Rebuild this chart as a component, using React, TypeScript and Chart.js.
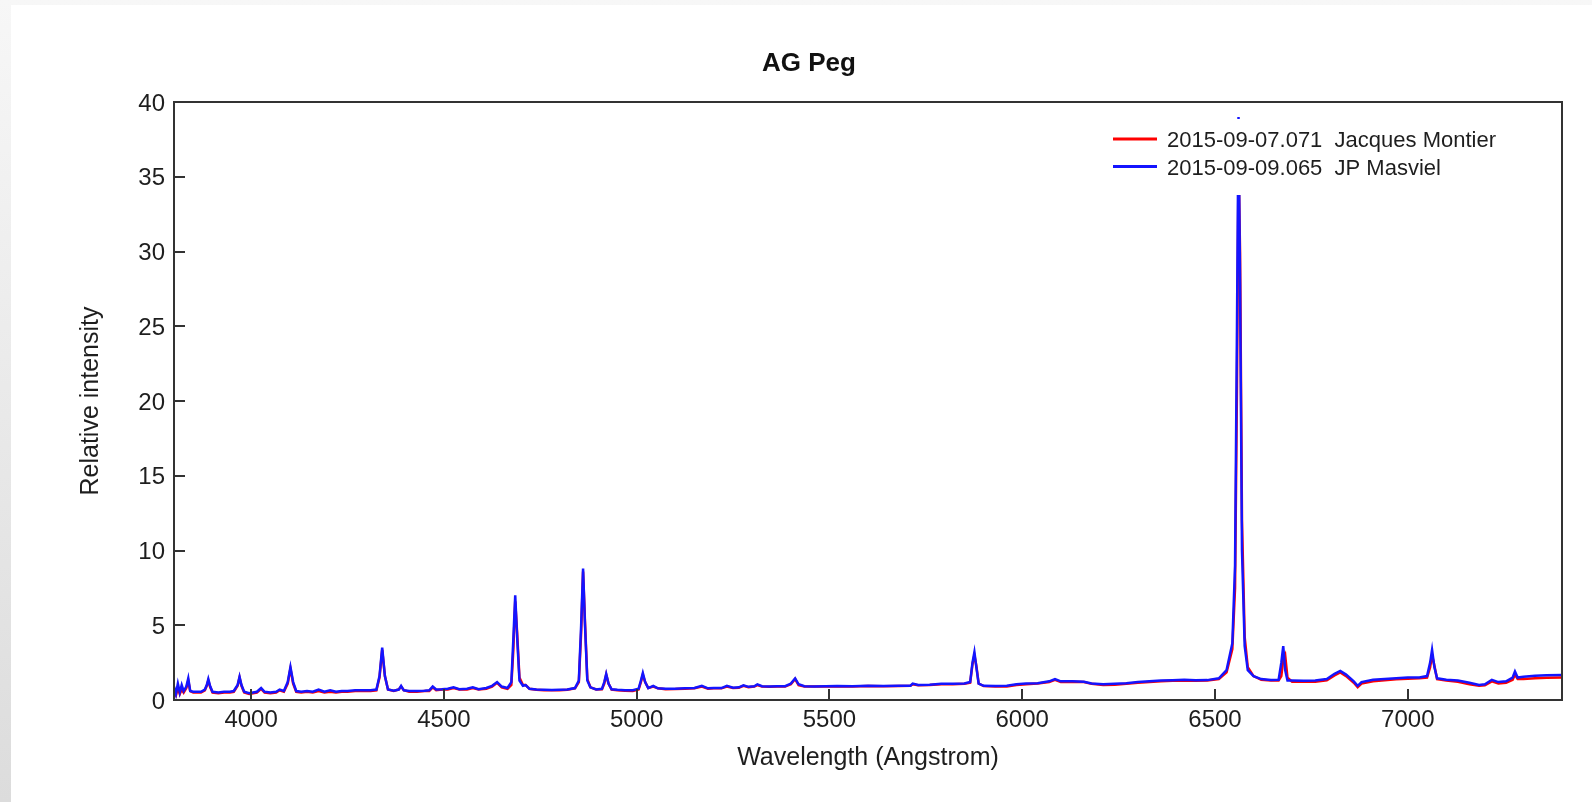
import React, { useEffect, useRef } from "react";
import { Chart, registerables } from "chart.js";

Chart.register(...registerables);

const chartTitle = "AG Peg";
const xAxisTitle = "Wavelength (Angstrom)";
const yAxisTitle = "Relative intensity";
const seriesLabels = ["2015-09-07.071  Jacques Montier", "2015-09-09.065  JP Masviel"];
const seriesColors = ["#ff0000", "#1414ff"];

const xTickValues = [4000, 4500, 5000, 5500, 6000, 6500, 7000];
const yTickValues = [0, 5, 10, 15, 20, 25, 30, 35, 40];

const wavelengths = [
  3800, 3805, 3810, 3815, 3820, 3825, 3832, 3837, 3842, 3850, 3860, 3870, 3880, 3885, 3889, 3894,
  3900, 3915, 3930, 3945, 3955, 3965, 3970, 3975, 3982, 3995, 4005, 4015, 4026, 4035, 4050, 4065,
  4074, 4085, 4095, 4102, 4109, 4117, 4130, 4145, 4160, 4175, 4190, 4205, 4220, 4235, 4250, 4270,
  4290, 4310, 4325, 4333, 4340, 4347, 4355, 4370, 4383, 4389, 4396, 4410, 4430, 4450, 4462, 4471,
  4480, 4495, 4510, 4525, 4540, 4560, 4575, 4590, 4610, 4625, 4638, 4650, 4665, 4675, 4680, 4685,
  4690, 4696, 4705, 4712, 4722, 4740, 4760, 4780, 4800, 4820, 4840, 4850, 4856, 4861, 4866, 4872,
  4880, 4895, 4910, 4916, 4921, 4927, 4935, 4950, 4970, 4990, 5005, 5011, 5016, 5022, 5030, 5043,
  5055, 5075, 5100, 5125, 5150, 5169, 5185, 5200, 5220, 5234, 5250, 5265, 5277, 5290, 5305, 5313,
  5325, 5345, 5365, 5385, 5400, 5411, 5420, 5435, 5460, 5490, 5520, 5560, 5600, 5640, 5680, 5710,
  5716, 5730, 5760, 5790, 5820, 5850, 5865, 5871, 5876, 5881, 5887, 5900, 5930, 5960, 5985, 6010,
  6040, 6070, 6085, 6100, 6130, 6160, 6180, 6210, 6240, 6270, 6300, 6330, 6360, 6390, 6420, 6450,
  6480, 6510, 6530, 6545, 6552, 6557, 6561, 6565, 6570, 6577, 6585, 6600, 6620, 6645, 6665, 6672,
  6677, 6682, 6688, 6700, 6730, 6760, 6790, 6810, 6825, 6840, 6860, 6870, 6880, 6910, 6940, 6970,
  7000, 7030, 7050, 7058, 7063, 7069, 7076, 7100, 7130, 7160, 7185, 7200, 7218, 7235, 7255, 7272,
  7278, 7285, 7300, 7330, 7360, 7400,
];

// 2015-09-07.071 Jacques Montier (red)
const montierFlux = [
  0.5, 0.3, 0.8, 0.4, 0.7, 0.5, 0.8, 1.3, 0.6, 0.5, 0.5, 0.5, 0.65, 0.95, 1.3, 0.85,
  0.5, 0.45, 0.5, 0.5, 0.55, 0.95, 1.5, 0.95, 0.5, 0.4, 0.45, 0.5, 0.75, 0.5, 0.45, 0.5,
  0.65, 0.55, 1.1, 2.1, 1.1, 0.55, 0.5, 0.55, 0.5, 0.6, 0.5, 0.55, 0.5, 0.55, 0.55, 0.6,
  0.6, 0.6, 0.65, 1.5, 3.35, 1.6, 0.7, 0.6, 0.7, 0.9, 0.65, 0.55, 0.55, 0.6, 0.6, 0.85,
  0.65, 0.7, 0.7, 0.8, 0.7, 0.7, 0.8, 0.7, 0.75, 0.9, 1.15, 0.85, 0.75, 1.0, 3.3, 6.6,
  4.5, 1.5, 1.0, 1.0, 0.75, 0.68, 0.65, 0.65, 0.66, 0.68, 0.78, 1.2, 4.5, 8.6, 5.2, 1.4,
  0.85, 0.7, 0.72, 1.1, 1.7, 1.1, 0.7, 0.65, 0.62, 0.6, 0.7, 1.2, 1.7, 1.2, 0.8, 0.9,
  0.78, 0.72, 0.73, 0.76, 0.78, 0.9, 0.76, 0.78, 0.78, 0.9, 0.8, 0.82, 0.95, 0.86, 0.9, 1.0,
  0.9, 0.88, 0.9, 0.9, 1.05, 1.4, 1.0, 0.9, 0.9, 0.9, 0.92, 0.9, 0.93, 0.92, 0.93, 0.95,
  1.05, 0.98, 1.0, 1.05, 1.06, 1.08, 1.15, 2.4, 3.0, 2.3, 1.1, 0.93, 0.9, 0.9, 1.0, 1.05,
  1.1, 1.2, 1.35, 1.2, 1.22, 1.2, 1.08, 1.0, 1.02, 1.08, 1.15, 1.2, 1.25, 1.28, 1.3, 1.28,
  1.3, 1.4, 1.85, 3.4, 7.5, 21.0, 36.0, 30.0, 12.0, 4.2, 2.2, 1.6, 1.35, 1.3, 1.3, 1.6,
  2.7, 3.0, 1.5, 1.22, 1.22, 1.22, 1.32, 1.65, 1.85, 1.6, 1.15, 0.85, 1.1, 1.25, 1.32, 1.38,
  1.42, 1.45, 1.5, 2.2, 3.0, 2.3, 1.4, 1.3, 1.22, 1.05, 0.95, 0.98, 1.25, 1.1, 1.15, 1.35,
  1.7, 1.4, 1.4, 1.45, 1.48, 1.5,
];

// 2015-09-09.065 JP Masviel (blue)
const masvielFlux = [
  0.9, 0.4, 1.1, 0.5, 1.0, 0.6, 0.9, 1.45, 0.6, 0.55, 0.55, 0.55, 0.7, 1.0, 1.4, 0.9,
  0.55, 0.5, 0.55, 0.55, 0.6, 1.0, 1.55, 1.0, 0.55, 0.45, 0.5, 0.55, 0.8, 0.55, 0.5, 0.55,
  0.7, 0.6, 1.2, 2.2, 1.2, 0.6, 0.55, 0.6, 0.55, 0.7, 0.55, 0.65, 0.55, 0.6, 0.6, 0.65,
  0.65, 0.65, 0.7, 1.6, 3.5, 1.6, 0.7, 0.62, 0.7, 0.95, 0.65, 0.6, 0.6, 0.62, 0.65, 0.9,
  0.7, 0.72, 0.75, 0.85, 0.72, 0.75, 0.85, 0.72, 0.8, 0.95, 1.2, 0.9, 0.8, 1.2, 4.0, 7.0,
  4.2, 1.3, 0.95, 1.0, 0.75, 0.7, 0.68, 0.67, 0.68, 0.7, 0.8, 1.3, 5.0, 8.8, 5.0, 1.3,
  0.85, 0.7, 0.75, 1.2, 1.75, 1.1, 0.72, 0.68, 0.65, 0.65, 0.75, 1.3, 1.8, 1.2, 0.8, 0.95,
  0.78, 0.75, 0.75, 0.78, 0.8, 0.95, 0.78, 0.8, 0.8, 0.95, 0.82, 0.85, 0.98, 0.88, 0.92, 1.05,
  0.92, 0.9, 0.92, 0.92, 1.1, 1.45, 1.05, 0.92, 0.9, 0.92, 0.93, 0.92, 0.95, 0.93, 0.95, 0.96,
  1.1, 1.0, 1.02, 1.08, 1.08, 1.1, 1.2, 2.5, 3.2, 2.2, 1.1, 0.95, 0.94, 0.95, 1.05, 1.1,
  1.12, 1.25, 1.4, 1.25, 1.25, 1.22, 1.1, 1.05, 1.08, 1.12, 1.2, 1.25, 1.3, 1.32, 1.35, 1.32,
  1.33, 1.45, 2.0, 3.8, 9.0, 25.0, 39.0, 28.0, 10.0, 3.6, 2.0, 1.6, 1.4, 1.33, 1.35, 2.5,
  3.6, 2.0, 1.3, 1.3, 1.28, 1.3, 1.4, 1.75, 1.95, 1.7, 1.25, 0.95, 1.2, 1.35, 1.4, 1.45,
  1.5, 1.5, 1.6, 2.5, 3.35, 2.2, 1.45, 1.35, 1.3, 1.15, 1.0, 1.05, 1.35, 1.2, 1.25, 1.5,
  1.9, 1.5, 1.55, 1.62, 1.65, 1.68,
];

const FONT = "'Liberation Sans', Arial, sans-serif";
const TEXT_COLOR = "#1e1e1e";

const framePlugin = {
  id: "frameAndLegend",
  afterDatasetsDraw(chart: any) {
    const { ctx, chartArea } = chart;
    const { left, right, top, bottom } = chartArea;
    const xs = chart.scales.x;
    const ys = chart.scales.y;
    ctx.save();
    // legend box (white, covering lines beneath)
    ctx.fillStyle = "#ffffff";
    ctx.fillRect(1090, 114, 410, 76);
    const rowY = [134, 161.5];
    for (let i = 0; i < seriesLabels.length; i++) {
      ctx.strokeStyle = seriesColors[i];
      ctx.lineWidth = 3;
      ctx.beginPath();
      ctx.moveTo(1102, rowY[i]);
      ctx.lineTo(1146, rowY[i]);
      ctx.stroke();
      ctx.fillStyle = TEXT_COLOR;
      ctx.font = `22px ${FONT}`;
      ctx.textBaseline = "middle";
      ctx.textAlign = "left";
      ctx.fillText(seriesLabels[i], 1156, rowY[i] + 2);
    }
    // inward tick marks
    ctx.strokeStyle = "#333333";
    ctx.lineWidth = 2;
    ctx.beginPath();
    for (const t of xs.ticks) {
      const px = Math.round(xs.getPixelForValue(t.value));
      if (px <= left + 1 || px >= right - 1) continue;
      ctx.moveTo(px, bottom);
      ctx.lineTo(px, bottom - 11);
    }
    for (const t of ys.ticks) {
      const py = Math.round(ys.getPixelForValue(t.value));
      if (py <= top + 1 || py >= bottom - 1) continue;
      ctx.moveTo(left, py);
      ctx.lineTo(left + 11, py);
    }
    ctx.stroke();
    // frame
    ctx.strokeRect(left, top, right - left, bottom - top);
    ctx.restore();
  },
};

export default function App() {
  const canvasRef = useRef<HTMLCanvasElement | null>(null);

  useEffect(() => {
    const canvas = canvasRef.current;
    if (!canvas) return;
    const chart = new Chart(canvas, {
      type: "line",
      data: {
        datasets: [
          {
            label: seriesLabels[0],
            data: wavelengths.map((w, i) => ({ x: w, y: montierFlux[i] })),
            borderColor: seriesColors[0],
            backgroundColor: seriesColors[0],
            borderWidth: 2.5,
            pointRadius: 0,
            tension: 0,
            order: 2,
          },
          {
            label: seriesLabels[1],
            data: wavelengths.map((w, i) => ({ x: w, y: masvielFlux[i] })),
            borderColor: seriesColors[1],
            backgroundColor: seriesColors[1],
            borderWidth: 2.5,
            pointRadius: 0,
            tension: 0,
            order: 1,
          },
        ],
      },
      options: {
        responsive: false,
        animation: false,
        events: [],
        layout: { padding: { left: 45, right: 45, top: 0, bottom: 0 } },
        plugins: {
          legend: { display: false },
          tooltip: { enabled: false },
          title: {
            display: true,
            text: chartTitle,
            color: "#111111",
            font: { family: FONT, size: 26, weight: "bold", lineHeight: 1.2 },
            padding: { top: 43.4, bottom: 22.4 },
          },
        },
        scales: {
          x: {
            type: "linear",
            min: 3800,
            max: 7400,
            grid: { display: false, drawTicks: false },
            border: { display: false },
            afterBuildTicks: (scale: any) => {
              scale.ticks = xTickValues.map((v) => ({ value: v }));
            },
            ticks: {
              color: TEXT_COLOR,
              font: { family: FONT, size: 24 },
              padding: 6,
              maxRotation: 0,
              autoSkip: false,
              callback: (v: any) => String(v),
            },
            title: {
              display: true,
              text: xAxisTitle,
              color: TEXT_COLOR,
              font: { family: FONT, size: 25, lineHeight: 1.2 },
              padding: { top: 29, bottom: 29 },
            },
            afterFit: (scale: any) => {
              scale.height = 102;
            },
          },
          y: {
            type: "linear",
            min: 0,
            max: 40,
            grid: { display: false, drawTicks: false },
            border: { display: false },
            afterBuildTicks: (scale: any) => {
              scale.ticks = yTickValues.map((v) => ({ value: v }));
            },
            ticks: {
              color: TEXT_COLOR,
              font: { family: FONT, size: 24 },
              padding: 9,
              labelOffset: 2,
              autoSkip: false,
              callback: (v: any) => String(v),
            },
            title: {
              display: true,
              text: yAxisTitle,
              color: TEXT_COLOR,
              font: { family: FONT, size: 25, lineHeight: 1.2 },
              padding: { top: 20, bottom: 20 },
            },
            afterFit: (scale: any) => {
              scale.width = 118;
            },
          },
        },
      },
      plugins: [framePlugin],
    });
    return () => chart.destroy();
  }, []);

  return (
    <div
      style={{
        position: "fixed",
        left: 0,
        top: 0,
        width: "100vw",
        height: "100vh",
        overflow: "hidden",
        background: "linear-gradient(#f7f7f7, #dcdcdc)",
      }}
    >
      <div
        style={{
          position: "absolute",
          left: 11,
          top: 5,
          right: 0,
          bottom: 0,
          background: "#ffffff",
          overflow: "hidden",
        }}
      >
        <canvas
          ref={canvasRef}
          width={1596}
          height={797}
          style={{ position: "absolute", left: 0, top: 0, width: 1596, height: 797 }}
        />
      </div>
    </div>
  );
}
